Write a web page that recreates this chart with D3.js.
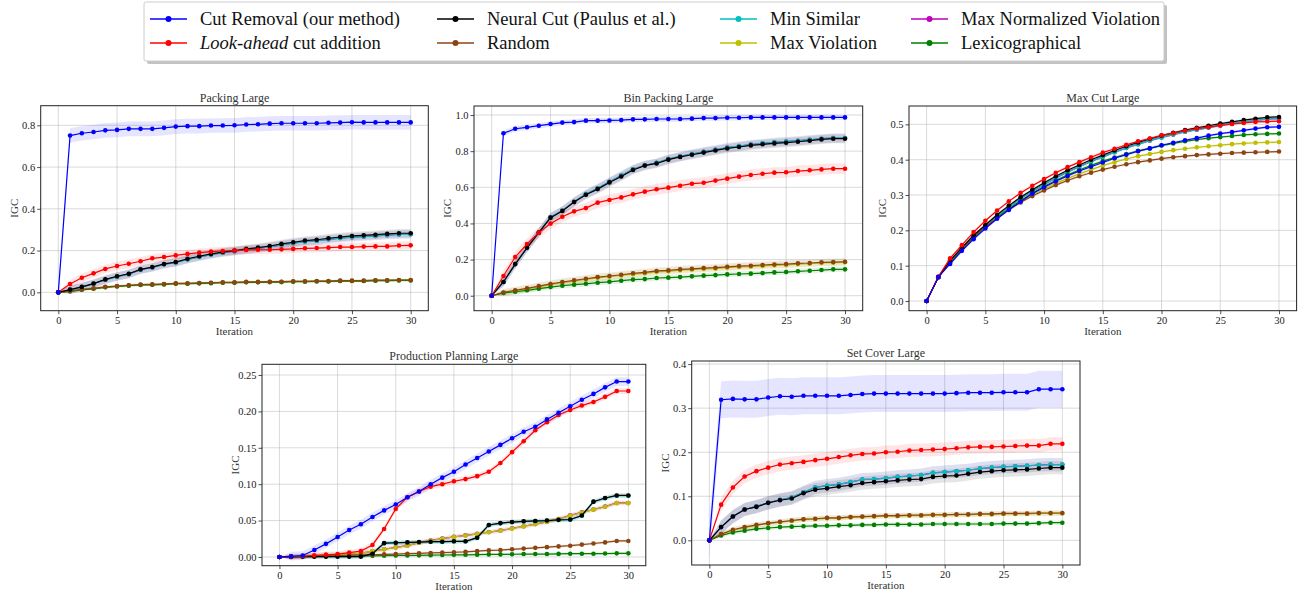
<!DOCTYPE html>
<html>
<head>
<meta charset="utf-8">
<script src="https://cdn.jsdelivr.net/npm/d3@7"></script>
<style>
  body { margin: 0; background: #fff; }
  svg { display: block; }
  svg text { font-family: "Liberation Serif", "DejaVu Serif", serif; }
</style>
</head>
<body>
<svg id="chart" width="1298" height="593"></svg>
<script>

// ---- data -----------------------------------------------------------------

var iterations = [0, 1, 2, 3, 4, 5, 6, 7, 8, 9, 10, 11, 12, 13, 14, 15, 16, 17, 18, 19, 20,
    21, 22, 23, 24, 25, 26, 27, 28, 29, 30];

var methods = [
    "Cut Removal (our method)",
    "Look-ahead cut addition",
    "Neural Cut (Paulus et al.)",
    "Random",
    "Min Similar",
    "Max Violation",
    "Max Normalized Violation",
    "Lexicographical"
];

var methodColors = ["#0000ff", "#ff0000", "#000000", "#8b4513", "#00bfbf", "#bfbf00", "#bf00bf", "#008000"];

// rows follow the order of `methods`
var packingValues = [
    [0, 0.751, 0.762, 0.768, 0.776, 0.778, 0.783, 0.783, 0.783, 0.788, 0.794, 0.796, 0.796, 0.799, 0.799, 0.800, 0.804, 0.805, 0.808, 0.810, 0.810, 0.810, 0.810, 0.812, 0.813, 0.815, 0.814, 0.814, 0.814, 0.814, 0.814],
    [0, 0.040, 0.070, 0.091, 0.112, 0.126, 0.137, 0.149, 0.163, 0.169, 0.177, 0.184, 0.190, 0.195, 0.198, 0.200, 0.203, 0.204, 0.204, 0.206, 0.208, 0.211, 0.212, 0.214, 0.217, 0.217, 0.219, 0.220, 0.220, 0.224, 0.225],
    [0, 0.013, 0.026, 0.042, 0.062, 0.077, 0.089, 0.110, 0.121, 0.136, 0.145, 0.161, 0.173, 0.184, 0.193, 0.200, 0.208, 0.214, 0.222, 0.232, 0.240, 0.248, 0.252, 0.259, 0.265, 0.270, 0.273, 0.276, 0.280, 0.283, 0.283],
    [0, 0.006, 0.014, 0.019, 0.026, 0.030, 0.034, 0.037, 0.038, 0.040, 0.043, 0.043, 0.045, 0.046, 0.048, 0.048, 0.050, 0.050, 0.051, 0.051, 0.053, 0.053, 0.054, 0.054, 0.056, 0.056, 0.056, 0.058, 0.058, 0.059, 0.059],
    [0, 0.012, 0.025, 0.041, 0.060, 0.075, 0.087, 0.108, 0.119, 0.134, 0.143, 0.158, 0.170, 0.181, 0.190, 0.197, 0.204, 0.210, 0.218, 0.227, 0.235, 0.243, 0.247, 0.254, 0.260, 0.264, 0.267, 0.270, 0.274, 0.277, 0.278],
    [0, 0.006, 0.013, 0.018, 0.025, 0.029, 0.033, 0.036, 0.037, 0.039, 0.042, 0.042, 0.044, 0.045, 0.047, 0.047, 0.049, 0.049, 0.050, 0.050, 0.052, 0.052, 0.053, 0.053, 0.055, 0.055, 0.055, 0.057, 0.057, 0.058, 0.058],
    [0, 0.012, 0.025, 0.041, 0.060, 0.075, 0.087, 0.108, 0.119, 0.134, 0.143, 0.158, 0.170, 0.181, 0.190, 0.197, 0.204, 0.210, 0.218, 0.227, 0.235, 0.243, 0.247, 0.254, 0.260, 0.264, 0.267, 0.270, 0.274, 0.277, 0.278],
    [0, 0.005, 0.012, 0.017, 0.024, 0.028, 0.032, 0.035, 0.036, 0.038, 0.041, 0.041, 0.043, 0.044, 0.046, 0.046, 0.048, 0.048, 0.049, 0.049, 0.051, 0.051, 0.052, 0.052, 0.054, 0.054, 0.054, 0.056, 0.056, 0.057, 0.057]
];
var packingSpread = [0.035, 0.02, 0.02, 0.006, 0.02, 0.006, 0.02, 0.006];

var binPackingValues = [
    [0, 0.899, 0.924, 0.932, 0.941, 0.950, 0.958, 0.961, 0.969, 0.969, 0.970, 0.972, 0.976, 0.976, 0.978, 0.978, 0.978, 0.980, 0.983, 0.983, 0.985, 0.985, 0.987, 0.987, 0.987, 0.987, 0.987, 0.987, 0.987, 0.987, 0.987],
    [0, 0.109, 0.214, 0.286, 0.349, 0.399, 0.437, 0.467, 0.485, 0.515, 0.530, 0.544, 0.561, 0.576, 0.589, 0.598, 0.609, 0.620, 0.625, 0.637, 0.648, 0.659, 0.668, 0.675, 0.681, 0.683, 0.690, 0.694, 0.699, 0.703, 0.703],
    [0, 0.076, 0.175, 0.265, 0.349, 0.432, 0.469, 0.518, 0.559, 0.590, 0.627, 0.660, 0.696, 0.720, 0.732, 0.753, 0.768, 0.780, 0.792, 0.804, 0.815, 0.823, 0.832, 0.838, 0.843, 0.847, 0.852, 0.858, 0.865, 0.869, 0.869],
    [0, 0.018, 0.030, 0.041, 0.053, 0.065, 0.076, 0.085, 0.094, 0.103, 0.109, 0.116, 0.124, 0.129, 0.137, 0.140, 0.146, 0.149, 0.153, 0.155, 0.160, 0.164, 0.166, 0.170, 0.173, 0.175, 0.179, 0.181, 0.185, 0.186, 0.188],
    [0, 0.076, 0.175, 0.265, 0.350, 0.434, 0.471, 0.520, 0.562, 0.594, 0.631, 0.665, 0.700, 0.722, 0.735, 0.756, 0.771, 0.784, 0.796, 0.808, 0.820, 0.828, 0.837, 0.843, 0.849, 0.853, 0.858, 0.863, 0.869, 0.873, 0.873],
    [0, 0.016, 0.027, 0.038, 0.049, 0.061, 0.072, 0.081, 0.090, 0.099, 0.105, 0.112, 0.119, 0.124, 0.132, 0.135, 0.141, 0.144, 0.148, 0.150, 0.155, 0.159, 0.161, 0.165, 0.168, 0.170, 0.175, 0.177, 0.181, 0.183, 0.185],
    [0, 0.076, 0.175, 0.265, 0.350, 0.434, 0.471, 0.520, 0.562, 0.594, 0.631, 0.665, 0.700, 0.722, 0.735, 0.756, 0.771, 0.784, 0.796, 0.808, 0.820, 0.828, 0.837, 0.843, 0.849, 0.853, 0.858, 0.863, 0.869, 0.873, 0.873],
    [0, 0.015, 0.022, 0.030, 0.039, 0.048, 0.055, 0.061, 0.066, 0.072, 0.077, 0.083, 0.089, 0.092, 0.098, 0.100, 0.103, 0.107, 0.111, 0.114, 0.118, 0.120, 0.122, 0.125, 0.129, 0.131, 0.135, 0.138, 0.142, 0.146, 0.146]
];
var binPackingSpread = [0.015, 0.03, 0.025, 0.02, 0.025, 0.02, 0.025, 0.015];

var maxCutValues = [
    [0, 0.068, 0.105, 0.142, 0.175, 0.205, 0.233, 0.258, 0.281, 0.304, 0.322, 0.339, 0.354, 0.368, 0.380, 0.392, 0.404, 0.414, 0.424, 0.432, 0.441, 0.448, 0.455, 0.461, 0.468, 0.474, 0.478, 0.483, 0.488, 0.492, 0.493],
    [0, 0.069, 0.121, 0.158, 0.195, 0.227, 0.256, 0.282, 0.306, 0.326, 0.345, 0.363, 0.379, 0.393, 0.407, 0.420, 0.431, 0.442, 0.452, 0.460, 0.469, 0.475, 0.482, 0.488, 0.492, 0.497, 0.501, 0.504, 0.507, 0.508, 0.509],
    [0, 0.067, 0.115, 0.151, 0.186, 0.215, 0.244, 0.270, 0.294, 0.315, 0.335, 0.353, 0.370, 0.385, 0.400, 0.413, 0.426, 0.438, 0.449, 0.459, 0.468, 0.476, 0.484, 0.490, 0.496, 0.502, 0.507, 0.512, 0.516, 0.520, 0.521],
    [0, 0.067, 0.112, 0.149, 0.181, 0.210, 0.235, 0.258, 0.279, 0.297, 0.313, 0.328, 0.341, 0.353, 0.363, 0.372, 0.380, 0.387, 0.393, 0.398, 0.403, 0.407, 0.410, 0.413, 0.415, 0.417, 0.419, 0.420, 0.421, 0.422, 0.423],
    [0, 0.067, 0.113, 0.149, 0.183, 0.212, 0.240, 0.266, 0.290, 0.311, 0.330, 0.348, 0.365, 0.380, 0.395, 0.408, 0.421, 0.433, 0.444, 0.454, 0.463, 0.471, 0.479, 0.485, 0.491, 0.497, 0.502, 0.507, 0.511, 0.515, 0.516],
    [0, 0.068, 0.110, 0.147, 0.180, 0.210, 0.236, 0.260, 0.281, 0.300, 0.317, 0.333, 0.347, 0.360, 0.372, 0.383, 0.393, 0.402, 0.410, 0.416, 0.422, 0.427, 0.431, 0.435, 0.438, 0.441, 0.444, 0.446, 0.448, 0.449, 0.450],
    [0, 0.067, 0.113, 0.149, 0.183, 0.212, 0.240, 0.266, 0.290, 0.311, 0.330, 0.348, 0.365, 0.380, 0.395, 0.408, 0.421, 0.433, 0.444, 0.454, 0.463, 0.471, 0.479, 0.485, 0.491, 0.497, 0.502, 0.507, 0.511, 0.515, 0.516],
    [0, 0.068, 0.108, 0.145, 0.179, 0.209, 0.236, 0.261, 0.284, 0.305, 0.324, 0.341, 0.357, 0.371, 0.384, 0.396, 0.406, 0.416, 0.425, 0.432, 0.440, 0.446, 0.452, 0.457, 0.461, 0.464, 0.467, 0.470, 0.472, 0.473, 0.474]
];
var maxCutSpread = [0.004, 0.004, 0.004, 0.004, 0.004, 0.004, 0.004, 0.004];

var productionValues = [
    [0, 0.001, 0.002, 0.0096, 0.018, 0.0275, 0.037, 0.045, 0.055, 0.064, 0.072, 0.082, 0.090, 0.100, 0.109, 0.117, 0.127, 0.136, 0.145, 0.154, 0.163, 0.172, 0.179, 0.189, 0.198, 0.207, 0.216, 0.224, 0.233, 0.241, 0.241],
    [0, 0.0005, 0.001, 0.002, 0.003, 0.004, 0.006, 0.008, 0.0165, 0.0385, 0.066, 0.082, 0.090, 0.0966, 0.100, 0.104, 0.107, 0.111, 0.117, 0.129, 0.144, 0.159, 0.174, 0.185, 0.195, 0.202, 0.208, 0.213, 0.220, 0.228, 0.228],
    [0, 0, 0.0005, 0.0005, 0.0005, 0.0005, 0.0005, 0.0005, 0.0045, 0.019, 0.0195, 0.020, 0.0205, 0.021, 0.021, 0.0215, 0.0215, 0.0265, 0.044, 0.0465, 0.048, 0.049, 0.0495, 0.050, 0.051, 0.0515, 0.057, 0.076, 0.081, 0.0845, 0.0845],
    [0, 0.0005, 0.001, 0.0012, 0.0015, 0.002, 0.0025, 0.003, 0.003, 0.0035, 0.004, 0.0045, 0.005, 0.0055, 0.006, 0.0065, 0.007, 0.008, 0.009, 0.0095, 0.0105, 0.0115, 0.0125, 0.0135, 0.0145, 0.0155, 0.017, 0.0185, 0.020, 0.022, 0.022],
    [0, 0, 0.0005, 0.0005, 0.0005, 0.0005, 0.0005, 0.0005, 0.0045, 0.0188, 0.0193, 0.0198, 0.0203, 0.0208, 0.0208, 0.0213, 0.0213, 0.0262, 0.0437, 0.0462, 0.0477, 0.0487, 0.0492, 0.0497, 0.0507, 0.0512, 0.0567, 0.0757, 0.0807, 0.0842, 0.0842],
    [0, 0.0005, 0.001, 0.002, 0.003, 0.003, 0.004, 0.005, 0.008, 0.0105, 0.013, 0.0155, 0.0195, 0.0225, 0.025, 0.0275, 0.0295, 0.0315, 0.034, 0.036, 0.039, 0.042, 0.045, 0.048, 0.052, 0.057, 0.061, 0.065, 0.069, 0.074, 0.074],
    [0, 0.0005, 0.001, 0.002, 0.003, 0.003, 0.004, 0.005, 0.008, 0.0106, 0.0132, 0.0157, 0.0196, 0.0227, 0.0252, 0.0277, 0.0297, 0.0318, 0.0342, 0.0363, 0.0393, 0.0422, 0.0452, 0.0483, 0.0522, 0.0572, 0.0612, 0.0652, 0.0692, 0.0742, 0.0742],
    [0, 0.0003, 0.0005, 0.0007, 0.001, 0.001, 0.0012, 0.0015, 0.0015, 0.0018, 0.002, 0.002, 0.0022, 0.0025, 0.0027, 0.003, 0.003, 0.0032, 0.0035, 0.0035, 0.0037, 0.004, 0.004, 0.004, 0.0042, 0.0045, 0.0045, 0.0045, 0.0047, 0.005, 0.005]
];
var productionSpread = [0.006, 0.004, 0.003, 0.002, 0.003, 0.003, 0.003, 0.002];

var setCoverValues = [
    [0, 0.319, 0.321, 0.320, 0.320, 0.324, 0.327, 0.326, 0.328, 0.328, 0.328, 0.328, 0.330, 0.332, 0.333, 0.333, 0.333, 0.333, 0.333, 0.333, 0.333, 0.334, 0.335, 0.335, 0.335, 0.336, 0.336, 0.336, 0.343, 0.343, 0.343],
    [0, 0.081, 0.120, 0.145, 0.157, 0.165, 0.172, 0.175, 0.178, 0.182, 0.185, 0.189, 0.193, 0.196, 0.197, 0.200, 0.201, 0.204, 0.205, 0.206, 0.207, 0.209, 0.211, 0.212, 0.212, 0.213, 0.214, 0.215, 0.215, 0.219, 0.219],
    [0, 0.030, 0.054, 0.070, 0.076, 0.085, 0.091, 0.095, 0.107, 0.115, 0.118, 0.122, 0.125, 0.130, 0.132, 0.134, 0.136, 0.138, 0.139, 0.144, 0.146, 0.147, 0.151, 0.155, 0.157, 0.159, 0.160, 0.161, 0.163, 0.165, 0.165],
    [0, 0.014, 0.024, 0.030, 0.035, 0.039, 0.042, 0.045, 0.048, 0.049, 0.051, 0.051, 0.053, 0.054, 0.055, 0.056, 0.056, 0.057, 0.057, 0.058, 0.058, 0.059, 0.059, 0.060, 0.060, 0.061, 0.061, 0.061, 0.062, 0.062, 0.062],
    [0, 0.030, 0.054, 0.070, 0.077, 0.085, 0.092, 0.097, 0.109, 0.120, 0.124, 0.127, 0.132, 0.138, 0.139, 0.141, 0.144, 0.146, 0.148, 0.153, 0.155, 0.157, 0.159, 0.163, 0.165, 0.167, 0.168, 0.169, 0.171, 0.172, 0.172],
    [0, 0.013, 0.023, 0.029, 0.034, 0.038, 0.041, 0.044, 0.047, 0.048, 0.050, 0.050, 0.052, 0.053, 0.054, 0.055, 0.055, 0.056, 0.056, 0.057, 0.057, 0.058, 0.058, 0.059, 0.059, 0.060, 0.060, 0.060, 0.061, 0.061, 0.061],
    [0, 0.030, 0.054, 0.070, 0.077, 0.085, 0.092, 0.097, 0.109, 0.120, 0.124, 0.127, 0.132, 0.138, 0.139, 0.141, 0.144, 0.146, 0.148, 0.153, 0.155, 0.157, 0.159, 0.163, 0.165, 0.167, 0.168, 0.169, 0.171, 0.172, 0.172],
    [0, 0.011, 0.018, 0.022, 0.026, 0.028, 0.030, 0.031, 0.032, 0.033, 0.033, 0.034, 0.034, 0.035, 0.035, 0.036, 0.036, 0.036, 0.036, 0.037, 0.037, 0.037, 0.037, 0.037, 0.037, 0.038, 0.038, 0.038, 0.039, 0.040, 0.040]
];
var setCoverSpread = [0.042, 0.015, 0.015, 0.006, 0.015, 0.006, 0.015, 0.005];

var xTicks = [0, 5, 10, 15, 20, 25, 30];
var packingTicks = [0.0, 0.2, 0.4, 0.6, 0.8];
var binPackingTicks = [0.0, 0.2, 0.4, 0.6, 0.8, 1.0];
var maxCutTicks = [0.0, 0.1, 0.2, 0.3, 0.4, 0.5];
var productionTicks = [0.00, 0.05, 0.10, 0.15, 0.20, 0.25];
var setCoverTicks = [0.0, 0.1, 0.2, 0.3, 0.4];

// ---- layout ---------------------------------------------------------------

var svg = d3.select("#chart");
var serif = "'Liberation Serif', 'DejaVu Serif', serif";

var panels = [
    { title: "Packing Large", values: packingValues, spread: packingSpread, ticks: packingTicks, fmt: ".1f",
      left: 40.7, right: 428.3, top: 105.7, bottom: 310.7, ymin: -0.088, ymax: 0.894, startBand: true },
    { title: "Bin Packing Large", values: binPackingValues, spread: binPackingSpread, ticks: binPackingTicks, fmt: ".1f",
      left: 474, right: 862.7, top: 106, bottom: 310.7, ymin: -0.083, ymax: 1.05, startBand: false },
    { title: "Max Cut Large", values: maxCutValues, spread: maxCutSpread, ticks: maxCutTicks, fmt: ".1f",
      left: 909, right: 1296.6, top: 106, bottom: 310.7, ymin: -0.0275, ymax: 0.552, startBand: false },
    { title: "Production Planning Large", values: productionValues, spread: productionSpread, ticks: productionTicks, fmt: ".2f",
      left: 262, right: 645.8, top: 364.3, bottom: 565.7, ymin: -0.012, ymax: 0.2647, startBand: false },
    { title: "Set Cover Large", values: setCoverValues, spread: setCoverSpread, ticks: setCoverTicks, fmt: ".1f",
      left: 691.7, right: 1080, top: 361, bottom: 565, ymin: -0.056, ymax: 0.407, startBand: true }
];

// which series sits on top: later ones are drawn last
var drawOrder = [6, 4, 5, 7, 3, 2, 1, 0];

function drawPanel(p) {

    var x = d3.scaleLinear().domain([-1.5, 31.5]).range([p.left, p.right]);
    var y = d3.scaleLinear().domain([p.ymin, p.ymax]).range([p.bottom, p.top]);

    var g = svg.append("g");

    // grid
    g.append("g")
        .selectAll("line.vx")
        .data(xTicks)
        .join("line")
        .attr("x1", d => x(d)).attr("x2", d => x(d))
        .attr("y1", p.top).attr("y2", p.bottom)
        .attr("stroke", "#b0b0b0").attr("stroke-opacity", 0.6).attr("stroke-width", 0.8);

    g.append("g")
        .selectAll("line.hy")
        .data(p.ticks)
        .join("line")
        .attr("x1", p.left).attr("x2", p.right)
        .attr("y1", d => y(d)).attr("y2", d => y(d))
        .attr("stroke", "#b0b0b0").attr("stroke-opacity", 0.6).attr("stroke-width", 0.8);

    var clipId = "clip" + Math.round(p.left);
    g.append("clipPath").attr("id", clipId)
        .append("rect")
        .attr("x", p.left).attr("y", p.top)
        .attr("width", p.right - p.left).attr("height", p.bottom - p.top);

    var plot = g.append("g").attr("clip-path", "url(#" + clipId + ")");

    // bands
    drawOrder.forEach(function (s) {
        var vals = p.values[s];
        var w = p.spread[s];
        var area = d3.area()
            .x((d, i) => x(iterations[i]))
            .y0((d, i) => y(d - ((i === 0 && !(s === 0 && p.startBand)) ? 0 : w)))
            .y1((d, i) => y(d + ((i === 0 && !(s === 0 && p.startBand)) ? 0 : w)));
        plot.append("path")
            .attr("d", area(vals))
            .attr("fill", methodColors[s])
            .attr("fill-opacity", 0.1)
            .attr("stroke", "none");
    });

    // lines and markers
    drawOrder.forEach(function (s) {
        var vals = p.values[s];
        var line = d3.line().x((d, i) => x(iterations[i])).y(d => y(d));
        plot.append("path")
            .attr("d", line(vals))
            .attr("fill", "none")
            .attr("stroke", methodColors[s])
            .attr("stroke-width", 1.2);
        plot.append("g")
            .selectAll("circle")
            .data(vals)
            .join("circle")
            .attr("cx", (d, i) => x(iterations[i]))
            .attr("cy", d => y(d))
            .attr("r", 2.3)
            .attr("fill", methodColors[s]);
    });

    // axes
    var xAxis = d3.axisBottom(x).tickValues(xTicks).tickSize(3.5).tickPadding(2);
    var yAxis = d3.axisLeft(y).tickValues(p.ticks).tickSize(3.5).tickPadding(2).tickFormat(d3.format(p.fmt));

    var gx = g.append("g").attr("transform", "translate(0," + p.bottom + ")").call(xAxis);
    var gy = g.append("g").attr("transform", "translate(" + p.left + ",0)").call(yAxis);

    [gx, gy].forEach(function (a) {
        a.attr("font-family", serif);
        a.select(".domain").remove();
        a.selectAll("text").attr("font-size", 10.5).attr("fill", "#222").style("font-family", serif);
        a.selectAll("line").attr("stroke", "#222").attr("stroke-width", 0.8);
    });

    g.append("rect")
        .attr("x", p.left).attr("y", p.top)
        .attr("width", p.right - p.left).attr("height", p.bottom - p.top)
        .attr("fill", "none").attr("stroke", "#222").attr("stroke-width", 1);

    // labels
    g.append("text")
        .attr("x", (p.left + p.right) / 2).attr("y", p.top - 4)
        .attr("text-anchor", "middle").attr("font-size", 12).attr("fill", "#333")
        .text(p.title);

    g.append("text")
        .attr("x", (p.left + p.right) / 2).attr("y", p.bottom + 24)
        .attr("text-anchor", "middle").attr("font-size", 11).attr("fill", "#333")
        .text("Iteration");

    g.append("text")
        .attr("transform", "translate(" + (p.left - 23) + "," + ((p.top + p.bottom) / 2) + ") rotate(-90)")
        .attr("text-anchor", "middle").attr("font-size", 11).attr("fill", "#333")
        .text("IGC");
}

panels.forEach(drawPanel);

// ---- legend ---------------------------------------------------------------

function drawLegend() {

    var box = { x: 144, y: 2, w: 1020, h: 59 };
    var colX = [150, 437, 720, 911];
    var rowY = [19, 43];

    svg.append("rect")
        .attr("x", box.x + 3).attr("y", box.y + 3)
        .attr("width", box.w).attr("height", box.h)
        .attr("rx", 2).attr("fill", "#999").attr("fill-opacity", 0.6);

    svg.append("rect")
        .attr("x", box.x).attr("y", box.y)
        .attr("width", box.w).attr("height", box.h)
        .attr("rx", 2).attr("fill", "#fff").attr("stroke", "#ccc").attr("stroke-width", 1);

    methods.forEach(function (name, idx) {
        var col = Math.floor(idx / 2);
        var row = idx % 2;
        var lx = colX[col];
        var ly = rowY[row];

        svg.append("line")
            .attr("x1", lx).attr("x2", lx + 37)
            .attr("y1", ly).attr("y2", ly)
            .attr("stroke", methodColors[idx]).attr("stroke-width", 1.6);
        svg.append("circle")
            .attr("cx", lx + 18.5).attr("cy", ly).attr("r", 3)
            .attr("fill", methodColors[idx]);

        var text = svg.append("text")
            .attr("x", lx + 50).attr("y", ly + 6)
            .attr("font-size", 18.5).attr("fill", "#111")
            .style("font-family", serif);

        if (idx === 1) {
            text.append("tspan").attr("font-style", "italic").text("Look-ahead");
            text.append("tspan").text(" cut addition");
        } else {
            text.text(name);
        }
    });
}

drawLegend();

</script>
</body>
</html>
